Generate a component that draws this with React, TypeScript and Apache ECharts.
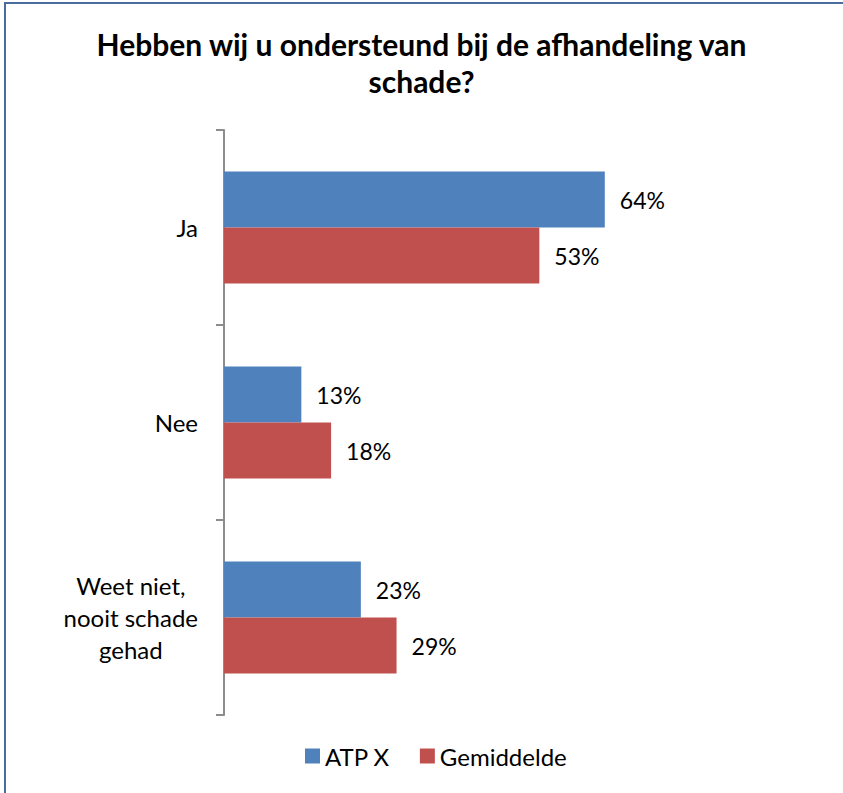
import React, { useEffect, useRef } from "react";
import * as echarts from "echarts";

const titleText = "Hebben wij u ondersteund bij de afhandeling van\nschade?";
const categories = ["Ja", "Nee", "Weet niet,\nnooit schade\ngehad"];
const seriesNames = ["ATP X", "Gemiddelde"];
const atpValues = [64, 13, 23];
const gemValues = [53, 18, 29];
const colors = ["#4F81BD", "#C0504D"];

const FONT = "Lato, 'Open Sans', sans-serif";

export default function App() {
  const ref = useRef<HTMLDivElement>(null);
  useEffect(() => {
    document.body.style.margin = "0";
    const chart = echarts.init(ref.current!, null, { renderer: "svg" });
    const labelStyle = {
      show: true,
      position: "right" as const,
      distance: 15,
      color: "#000",
      fontSize: 23,
      fontFamily: FONT,
      formatter: "{c}%",
    };
    chart.setOption({
      animation: false,
      backgroundColor: "#fff",
      title: {
        text: titleText,
        left: "center",
        top: 20,
        textStyle: {
          fontFamily: FONT,
          fontWeight: "bold",
          fontSize: 30,
          lineHeight: 37,
          color: "#000",
        },
      },
      graphic: [
        {
          type: "rect",
          shape: { x: 5, y: 3, width: 900, height: 900 },
          style: { fill: "none", stroke: "#4A6C9E", lineWidth: 2 },
          silent: true,
        },
      ],
      legend: {
        data: seriesNames,
        left: 300,
        top: 739,
        icon: "rect",
        itemWidth: 15,
        itemHeight: 15,
        itemGap: 30,
        textStyle: { fontFamily: FONT, fontSize: 24, color: "#000" },
      },
      grid: { left: 224, right: 24, top: 130, bottom: 78, containLabel: false },
      xAxis: {
        type: "value",
        min: 0,
        max: 100,
        show: false,
      },
      yAxis: {
        type: "category",
        data: categories,
        inverse: true,
        axisLine: { show: true, lineStyle: { color: "#8C8C8C", width: 2 } },
        axisTick: { show: true, length: 8, lineStyle: { color: "#8C8C8C", width: 2 } },
        axisLabel: {
          margin: 26,
          color: "#000",
          fontSize: 24,
          fontFamily: FONT,
          lineHeight: 32,
          formatter: (v: string) =>
            v.indexOf("\n") >= 0
              ? v.split("\n").map((l) => `{c|${l}}`).join("\n")
              : v,
          rich: { c: { align: "center", fontSize: 24, fontFamily: FONT, lineHeight: 32, color: "#000" } },
        },
        splitLine: { show: false },
      },
      series: [
        {
          name: seriesNames[0],
          type: "bar",
          data: atpValues,
          barWidth: 56,
          barGap: "0%",
          itemStyle: { color: colors[0] },
          label: labelStyle,
        },
        {
          name: seriesNames[1],
          type: "bar",
          data: gemValues,
          barWidth: 56,
          barGap: "0%",
          itemStyle: { color: colors[1] },
          label: labelStyle,
        },
      ],
    });
    return () => chart.dispose();
  }, []);
  return (
    <div
      ref={ref}
      style={{ position: "absolute", left: 0, top: 0, width: 843, height: 793 }}
    />
  );
}
